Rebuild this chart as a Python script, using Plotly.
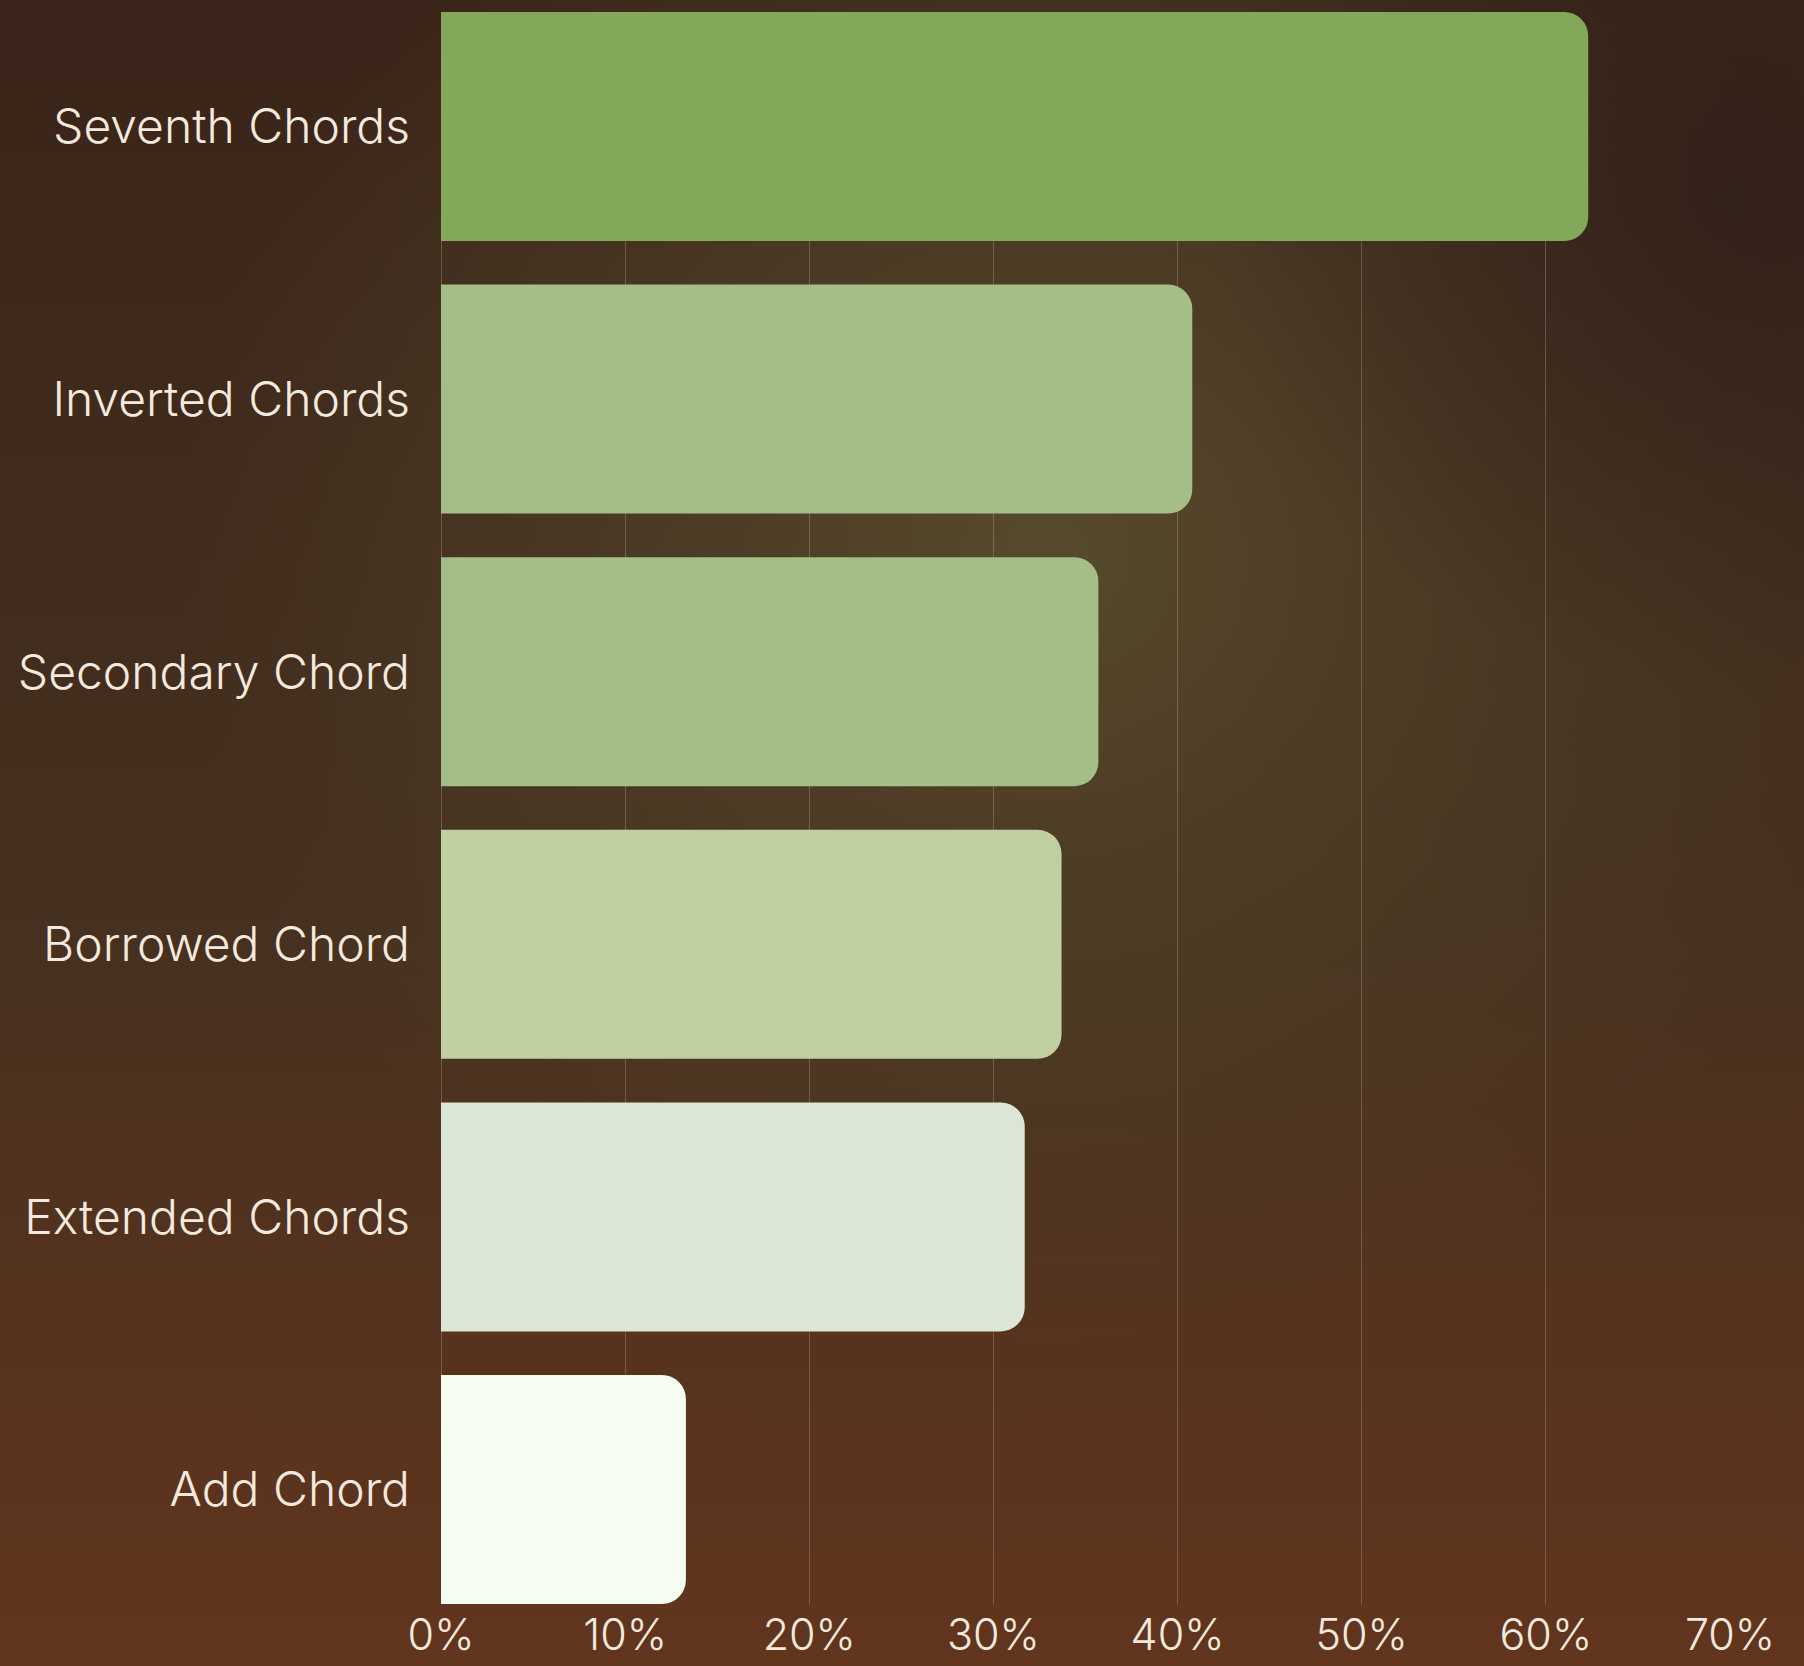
import base64
import plotly.graph_objects as go

categories = ["Seventh Chords", "Inverted Chords", "Secondary Chord",
              "Borrowed Chord", "Extended Chords", "Add Chord"]
values = [62.3, 40.8, 35.7, 33.7, 31.7, 13.3]
bar_colors = ["#84a85a", "#a5bd87", "#a5bd87", "#bfcfa0", "#dce6d6", "#f5fdf0"]
tick_vals = [0, 10, 20, 30, 40, 50, 60, 70]
tick_text = ["0%", "10%", "20%", "30%", "40%", "50%", "60%", "70%"]

W, H = 1804, 1666
ML, MR, MT, MB = 441, 74, 12, 62
PW, PH = W - ML - MR, H - MT - MB

svg = f"""<svg xmlns='http://www.w3.org/2000/svg' width='{W}' height='{H}' viewBox='0 0 {W} {H}' preserveAspectRatio='none'>
<defs>
<linearGradient id='base' x1='0' y1='0' x2='0' y2='1'>
<stop offset='0' stop-color='#3a2419'/>
<stop offset='0.55' stop-color='#46301f'/>
<stop offset='1' stop-color='#62351d'/>
</linearGradient>
<radialGradient id='glow' cx='0.58' cy='0.33' r='0.48'>
<stop offset='0' stop-color='#574a2c' stop-opacity='1'/>
<stop offset='0.55' stop-color='#4e3f27' stop-opacity='0.6'/>
<stop offset='1' stop-color='#4e3f27' stop-opacity='0'/>
</radialGradient>
<radialGradient id='dark' cx='0.97' cy='0.12' r='0.3'>
<stop offset='0' stop-color='#32211a' stop-opacity='0.9'/>
<stop offset='1' stop-color='#32211a' stop-opacity='0'/>
</radialGradient>
</defs>
<rect width='{W}' height='{H}' fill='url(#base)'/>
<rect width='{W}' height='{H}' fill='url(#glow)'/>
<rect width='{W}' height='{H}' fill='url(#dark)'/>
</svg>"""
bg_src = "data:image/svg+xml;base64," + base64.b64encode(svg.encode()).decode()

text_color = "#f3e9de"
font_family = "Inter, 'Open Sans', sans-serif"

fig = go.Figure(go.Bar(
    x=values,
    y=categories,
    orientation="h",
    marker=dict(color=bar_colors, cornerradius=24, line=dict(width=0)),
    width=0.84,
    hoverinfo="skip",
))

fig.update_layout(
    width=W, height=H, autosize=False,
    margin=dict(l=ML, r=MR, t=MT, b=MB, pad=0, autoexpand=False),
    paper_bgcolor="#5a331e",
    plot_bgcolor="rgba(0,0,0,0)",
    showlegend=False,
    font=dict(family=font_family, color=text_color, size=46),
    images=[dict(
        source=bg_src, xref="paper", yref="paper",
        x=-ML / PW, y=1 + MT / PH, sizex=W / PW, sizey=H / PH,
        xanchor="left", yanchor="top", sizing="stretch", layer="below",
    )],
    xaxis=dict(
        range=[0, 70], tickvals=tick_vals, ticktext=tick_text,
        automargin=False,
        showgrid=True, gridcolor="rgba(255,235,215,0.22)", gridwidth=1.2,
        zeroline=True, zerolinecolor="rgba(255,235,215,0.22)", zerolinewidth=1.2,
        showline=False, ticks="", ticklabelstandoff=2,
        tickfont=dict(size=43, color=text_color, family=font_family, weight=300),
        fixedrange=True,
    ),
    yaxis=dict(
        type="category", categoryorder="array", categoryarray=categories,
        range=[5.42, -0.42], automargin=False,
        showgrid=False, zeroline=False, showline=False,
        ticks="", ticklabelstandoff=30,
        tickfont=dict(size=48, color=text_color, family=font_family, weight=300),
        fixedrange=True,
    ),
)

fig.write_html(
    "out.html",
    config={"displayModeBar": False},
    post_script=("document.documentElement.style.margin='0';"
                 "document.documentElement.style.overflow='hidden';"
                 "document.body.style.margin='0';"
                 "document.body.style.overflow='hidden';"),
)
